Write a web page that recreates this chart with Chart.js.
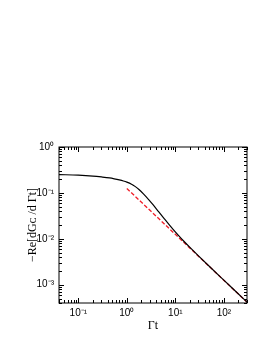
<!DOCTYPE html>
<html>
<head>
<meta charset="utf-8">
<script src="https://cdn.jsdelivr.net/npm/chart.js@4/dist/chart.umd.min.js"></script>
<style>
  html, body { margin: 0; padding: 0; background: #fff; }
  #wrap { width: 274px; height: 354px; }
</style>
</head>
<body>
<div id="wrap"><canvas id="GcChart" width="274" height="354"></canvas></div>
<script>
// values
var tFull = [0.04, 0.1, 0.2, 0.3, 0.44, 0.55, 0.7, 0.85, 1, 1.25, 1.5, 1.78, 2.2, 2.85, 3.5, 4.56,
             6, 7.3, 9, 11.7, 15, 20, 30, 50, 100, 200, 300];
var gFull = [0.251, 0.244, 0.233, 0.223, 0.212, 0.203, 0.192, 0.182, 0.172, 0.155, 0.137, 0.119, 0.0955,
             0.0708, 0.0547, 0.0385, 0.0269, 0.0209, 0.0161, 0.01175, 0.00885, 0.00649, 0.00425, 0.00252,
             0.001256, 0.000628, 0.000418];
var tAsym = [1, 300];
var gAsym = [0.125, 0.000417];

var xTicks = [0.1, 1, 10, 100];
var xTickLabels = ['10\u207B\u00B9', '10\u2070', '10\u00B9', '10\u00B2'];
var yTicks = [0.001, 0.01, 0.1, 1];
var yTickLabels = ['10\u207B\u00B3', '10\u207B\u00B2', '10\u207B\u00B9', '10\u2070'];

function toPoints(xs, ys){
    var pts = [];
    for(var i=0; i<xs.length; i++){
        pts.push({x: xs[i], y: ys[i]});
    }
    return pts;
}

// inward major/minor ticks on all four sides + frame
const frameTicks = {
    id: 'frameTicks',
    afterDraw(chart){
        const c = chart.ctx, a = chart.chartArea;
        const sx = chart.scales.x, sy = chart.scales.y;
        c.save();
        c.strokeStyle = '#000';
        c.lineWidth = 1;
        c.strokeRect(a.left, a.top, a.right - a.left, a.bottom - a.top);
        c.beginPath();
        for(var e=-2; e<=2; e++){
            for(var m=1; m<10; m++){
                var v = m * Math.pow(10, e);
                if(v < sx.min || v > sx.max) continue;
                var px = Math.round(sx.getPixelForValue(v)) + 0.5;
                var len = (m == 1) ? 5 : 3;
                c.moveTo(px, a.bottom); c.lineTo(px, a.bottom - len);
                c.moveTo(px, a.top); c.lineTo(px, a.top + len);
            }
        }
        for(var e=-4; e<=0; e++){
            for(var m=1; m<10; m++){
                var v = m * Math.pow(10, e);
                if(v < sy.min || v > sy.max) continue;
                var py = Math.round(sy.getPixelForValue(v)) + 0.5;
                var len = (m == 1) ? 5 : 3;
                c.moveTo(a.left, py); c.lineTo(a.left + len, py);
                c.moveTo(a.right, py); c.lineTo(a.right - len, py);
            }
        }
        c.stroke();
        c.restore();
    }
};

const ctx = document.getElementById('GcChart').getContext('2d');
const GcChart = new Chart(ctx, {
    type: 'line',
    data: {
        datasets: [
            {
                label: 'full',
                data: toPoints(tFull, gFull),
                borderColor: '#000',
                borderWidth: 1.2,
                pointRadius: 0,
                cubicInterpolationMode: 'monotone',
                fill: false
            },
            {
                label: 'asymptote',
                data: toPoints(tAsym, gAsym),
                borderColor: '#f01e28',
                borderWidth: 1.3,
                borderDash: [4, 2],
                pointRadius: 0,
                fill: false
            }
        ]
    },
    options: {
        responsive: false,
        animation: false,
        plugins: { legend: { display: false }, tooltip: { enabled: false } },
        layout: { padding: { top: 147, right: 27, bottom: 21, left: 0 } },
        scales: {
            x: {
                type: 'logarithmic',
                min: 0.04,
                max: 300,
                grid: { display: false, drawTicks: false },
                border: { display: false },
                afterBuildTicks: function(scale){
                    scale.ticks = xTicks.map(function(v){ return {value: v}; });
                },
                afterFit: function(scale){ scale.height = 30; },
                ticks: {
                    autoSkip: false,
                    maxRotation: 0,
                    padding: 4,
                    color: '#000',
                    font: { family: 'Liberation Sans', size: 10 },
                    callback: function(v){ return xTickLabels[xTicks.indexOf(v)]; }
                },
                title: {
                    display: true,
                    text: '\u0393t',
                    color: '#000',
                    padding: 0,
                    font: { family: 'Liberation Serif', size: 12 }
                }
            },
            y: {
                type: 'logarithmic',
                min: 0.0004,
                max: 1,
                grid: { display: false, drawTicks: false },
                border: { display: false },
                afterBuildTicks: function(scale){
                    scale.ticks = yTicks.map(function(v){ return {value: v}; });
                },
                afterFit: function(scale){ scale.width = 59; },
                ticks: {
                    autoSkip: false,
                    padding: 5,
                    color: '#000',
                    font: { family: 'Liberation Sans', size: 10 },
                    callback: function(v){ return yTickLabels[yTicks.indexOf(v)]; }
                },
                title: {
                    display: true,
                    text: '\u2212Re[dG\u1D04 /d \u0393t]',
                    color: '#000',
                    padding: { top: 26, bottom: 0 },
                    font: { family: 'Liberation Serif', size: 12 }
                }
            }
        }
    },
    plugins: [frameTicks]
});
</script>
</body>
</html>
